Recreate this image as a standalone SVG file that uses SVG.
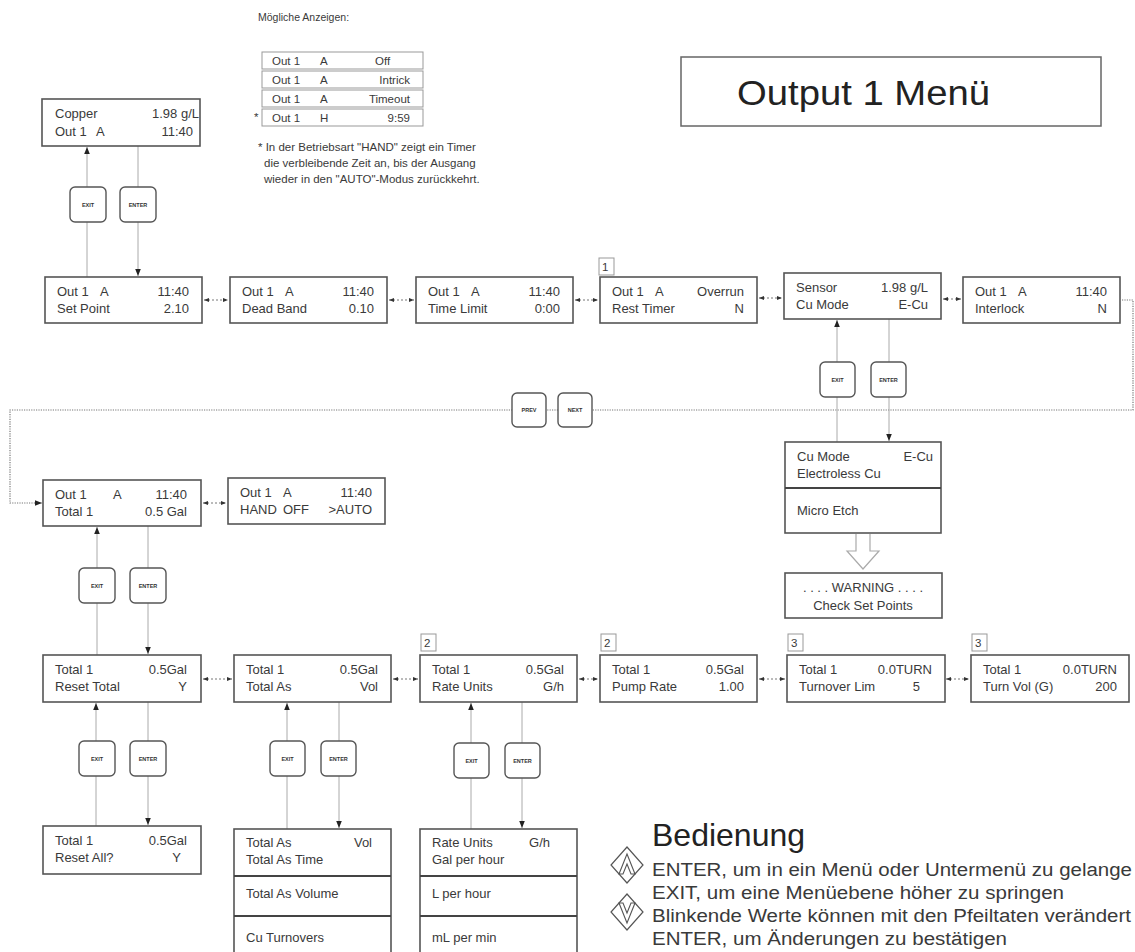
<svg xmlns="http://www.w3.org/2000/svg" width="1135" height="952" viewBox="0 0 1135 952">
<style>
.bg{fill:#fff}
.box{fill:#fff;stroke:#555;stroke-width:1.6}
.lbox{fill:#fff;stroke:#999;stroke-width:1}
.div{stroke:#444;stroke-width:1.8}
.t{font-family:"Liberation Sans",Arial,sans-serif;font-size:13px;fill:#3a3a3a}
.e{text-anchor:end}
.m{text-anchor:middle}
.sm{font-size:11.5px}
.xs{font-size:10.5px}
.lg{font-size:18px}
.btn{fill:#fff;stroke:#555;stroke-width:1.4}
.bt{font-family:"Liberation Sans",Arial,sans-serif;font-size:5.5px;font-weight:bold;fill:#333;text-anchor:middle}
.ln{stroke:#aaa;stroke-width:1;fill:none}
.dash{stroke:#777;stroke-width:1;stroke-dasharray:2 2;fill:none}
.dot{stroke:#777;stroke-width:1.2;stroke-dasharray:1.2 1.2;fill:none}
.lab{fill:#fff;stroke:#999;stroke-width:1}
.hollow{fill:#fff;stroke:#aaa;stroke-width:1.2}
</style>
<defs>
<marker id="ah" viewBox="0 0 10 10" refX="10" refY="5" markerWidth="7" markerHeight="7" orient="auto-start-reverse" markerUnits="userSpaceOnUse"><path d="M0,1 L10,5 L0,9 Z" fill="#222"/></marker>
<marker id="sa" viewBox="0 0 10 10" refX="10" refY="5" markerWidth="5" markerHeight="5" orient="auto-start-reverse" markerUnits="userSpaceOnUse"><path d="M0,1 L10,5 L0,9 Z" fill="#333"/></marker>
</defs>
<rect class="bg" x="0" y="0" width="1135" height="952"/>

<g id="connectors">
  <line class="ln" x1="87" y1="277" x2="87" y2="147" marker-end="url(#ah)"/>
  <line class="ln" x1="138" y1="146" x2="138" y2="276" marker-end="url(#ah)"/>
  <line class="dash" x1="204" y1="300" x2="228" y2="300" marker-start="url(#sa)" marker-end="url(#sa)"/>
  <line class="dash" x1="389" y1="300" x2="414" y2="300" marker-start="url(#sa)" marker-end="url(#sa)"/>
  <line class="dash" x1="575" y1="300" x2="598" y2="300" marker-start="url(#sa)" marker-end="url(#sa)"/>
  <line class="dash" x1="759" y1="298" x2="782" y2="298" marker-start="url(#sa)" marker-end="url(#sa)"/>
  <line class="dash" x1="943" y1="299" x2="961" y2="299" marker-start="url(#sa)" marker-end="url(#sa)"/>
  <polyline class="dot" points="1122,300 1133,300 1133,410 10,410 10,503 36,503"/>
  <line class="ln" x1="36" y1="503" x2="42" y2="503" marker-end="url(#ah)"/>
  <line class="ln" x1="837" y1="442" x2="837" y2="320" marker-end="url(#ah)"/>
  <line class="ln" x1="889" y1="319" x2="889" y2="441" marker-end="url(#ah)"/>
  <line class="dash" x1="203" y1="503" x2="226" y2="503" marker-start="url(#sa)" marker-end="url(#sa)"/>
  <line class="ln" x1="97" y1="655" x2="97" y2="527" marker-end="url(#ah)"/>
  <line class="ln" x1="148" y1="526" x2="148" y2="654" marker-end="url(#ah)"/>
  <line class="dash" x1="203" y1="679" x2="232" y2="679" marker-start="url(#sa)" marker-end="url(#sa)"/>
  <line class="dash" x1="393" y1="679" x2="418" y2="679" marker-start="url(#sa)" marker-end="url(#sa)"/>
  <line class="dash" x1="579" y1="679" x2="598" y2="679" marker-start="url(#sa)" marker-end="url(#sa)"/>
  <line class="dash" x1="759" y1="679" x2="785" y2="679" marker-start="url(#sa)" marker-end="url(#sa)"/>
  <line class="dash" x1="946" y1="679" x2="969" y2="679" marker-start="url(#sa)" marker-end="url(#sa)"/>
  <line class="ln" x1="96" y1="826" x2="96" y2="703" marker-end="url(#ah)"/>
  <line class="ln" x1="148" y1="702" x2="148" y2="825" marker-end="url(#ah)"/>
  <line class="ln" x1="287" y1="829" x2="287" y2="703" marker-end="url(#ah)"/>
  <line class="ln" x1="339" y1="702" x2="339" y2="828" marker-end="url(#ah)"/>
  <line class="ln" x1="471" y1="829" x2="471" y2="703" marker-end="url(#ah)"/>
  <line class="ln" x1="522" y1="702" x2="522" y2="828" marker-end="url(#ah)"/>
  <path class="hollow" d="M856,534 L856,551 L847,551 L863,569 L879,551 L870,551 L870,534"/>
</g>

<g id="buttons">
  <rect class="btn" x="70" y="187" width="36" height="35" rx="5"/><text class="bt" x="88" y="206.5">EXIT</text>
  <rect class="btn" x="120" y="187" width="36" height="35" rx="5"/><text class="bt" x="138" y="206.5">ENTER</text>
  <rect class="btn" x="820" y="362" width="35" height="35" rx="5"/><text class="bt" x="837.5" y="381.5">EXIT</text>
  <rect class="btn" x="871" y="362" width="35" height="35" rx="5"/><text class="bt" x="888.5" y="381.5">ENTER</text>
  <rect class="btn" x="512" y="393" width="34" height="34" rx="5"/><text class="bt" x="529" y="412">PREV</text>
  <rect class="btn" x="558" y="393" width="34" height="34" rx="5"/><text class="bt" x="575" y="412">NEXT</text>
  <rect class="btn" x="79" y="568" width="36" height="35" rx="5"/><text class="bt" x="97" y="587.5">EXIT</text>
  <rect class="btn" x="130" y="568" width="36" height="35" rx="5"/><text class="bt" x="148" y="587.5">ENTER</text>
  <rect class="btn" x="79" y="741" width="36" height="35" rx="5"/><text class="bt" x="97" y="760.5">EXIT</text>
  <rect class="btn" x="130" y="741" width="36" height="35" rx="5"/><text class="bt" x="148" y="760.5">ENTER</text>
  <rect class="btn" x="270" y="741" width="35" height="35" rx="5"/><text class="bt" x="287.5" y="760.5">EXIT</text>
  <rect class="btn" x="321" y="741" width="35" height="35" rx="5"/><text class="bt" x="338.5" y="760.5">ENTER</text>
  <rect class="btn" x="454" y="743" width="35" height="35" rx="5"/><text class="bt" x="471.5" y="762.5">EXIT</text>
  <rect class="btn" x="505" y="743" width="35" height="35" rx="5"/><text class="bt" x="522.5" y="762.5">ENTER</text>
</g>

<g id="possible-displays">
  <text class="t xs" x="258" y="21">Mögliche Anzeigen:</text>
  <rect class="lbox" x="262" y="52" width="161" height="17"/>
  <text class="t sm" x="272" y="65">Out 1</text><text class="t sm" x="320" y="65">A</text><text class="t sm" x="375" y="65">Off</text>
  <rect class="lbox" x="262" y="71" width="161" height="17"/>
  <text class="t sm" x="272" y="84">Out 1</text><text class="t sm" x="320" y="84">A</text><text class="t sm e" x="410" y="84">Intrick</text>
  <rect class="lbox" x="262" y="90" width="161" height="17"/>
  <text class="t sm" x="272" y="103">Out 1</text><text class="t sm" x="320" y="103">A</text><text class="t sm e" x="410" y="103">Timeout</text>
  <rect class="lbox" x="262" y="109" width="161" height="17"/>
  <text class="t sm" x="254" y="121">*</text>
  <text class="t sm" x="272" y="122">Out 1</text><text class="t sm" x="320" y="122">H</text><text class="t sm e" x="410" y="122">9:59</text>
  <text class="t sm" x="258" y="151">* In der Betriebsart "HAND" zeigt ein Timer</text>
  <text class="t sm" x="264" y="167">die verbleibende Zeit an, bis der Ausgang</text>
  <text class="t sm" x="264" y="183">wieder in den "AUTO"-Modus zurückkehrt.</text>
</g>

<g id="title">
  <rect x="681" y="57" width="420" height="69" fill="#fff" stroke="#666" stroke-width="1.5"/>
  <text x="737" y="105" font-family="Liberation Sans, Arial, sans-serif" font-size="35" fill="#222" textLength="253" lengthAdjust="spacingAndGlyphs">Output 1 Menü</text>
</g>

<g id="n-copper">
  <rect class="box" x="42" y="99" width="158" height="47"/>
  <text class="t" x="55" y="118">Copper</text><text class="t e" x="199" y="118">1.98 g/L</text>
  <text class="t" x="55" y="136">Out 1</text><text class="t" x="96" y="136">A</text><text class="t e" x="193" y="136">11:40</text>
</g>

<g id="n-setpoint">
  <rect class="box" x="45" y="277" width="157" height="46"/>
  <text class="t" x="57" y="296">Out 1</text><text class="t" x="100" y="296">A</text><text class="t e" x="189" y="296">11:40</text>
  <text class="t" x="57" y="313">Set Point</text><text class="t e" x="189" y="313">2.10</text>
</g>
<g id="n-deadband">
  <rect class="box" x="230" y="277" width="157" height="46"/>
  <text class="t" x="242" y="296">Out 1</text><text class="t" x="285" y="296">A</text><text class="t e" x="374" y="296">11:40</text>
  <text class="t" x="242" y="313">Dead Band</text><text class="t e" x="374" y="313">0.10</text>
</g>
<g id="n-timelimit">
  <rect class="box" x="416" y="277" width="157" height="46"/>
  <text class="t" x="428" y="296">Out 1</text><text class="t" x="471" y="296">A</text><text class="t e" x="560" y="296">11:40</text>
  <text class="t" x="428" y="313">Time Limit</text><text class="t e" x="560" y="313">0:00</text>
</g>
<g id="n-resttimer">
  <rect class="lab" x="599" y="258" width="15" height="17"/><text class="t sm" x="602" y="271">1</text>
  <rect class="box" x="600" y="277" width="157" height="46"/>
  <text class="t" x="612" y="296">Out 1</text><text class="t" x="655" y="296">A</text><text class="t e" x="744" y="296">Overrun</text>
  <text class="t" x="612" y="313">Rest Timer</text><text class="t e" x="744" y="313">N</text>
</g>
<g id="n-sensor">
  <rect class="box" x="784" y="273" width="157" height="46"/>
  <text class="t" x="796" y="292">Sensor</text><text class="t e" x="928" y="292">1.98 g/L</text>
  <text class="t" x="796" y="309">Cu Mode</text><text class="t e" x="928" y="309">E-Cu</text>
</g>
<g id="n-interlock">
  <rect class="box" x="963" y="277" width="157" height="46"/>
  <text class="t" x="975" y="296">Out 1</text><text class="t" x="1018" y="296">A</text><text class="t e" x="1107" y="296">11:40</text>
  <text class="t" x="975" y="313">Interlock</text><text class="t e" x="1107" y="313">N</text>
</g>

<g id="n-cumode-list">
  <rect class="box" x="785" y="442" width="156" height="91"/>
  <line class="div" x1="785" y1="488" x2="941" y2="488"/>
  <text class="t" x="797" y="461">Cu Mode</text><text class="t e" x="933" y="461">E-Cu</text>
  <text class="t" x="797" y="478">Electroless Cu</text>
  <text class="t" x="797" y="515">Micro Etch</text>
</g>
<g id="n-warning">
  <rect class="box" x="785" y="573" width="157" height="45"/>
  <text class="t m" x="863" y="592">. . . . WARNING . . . .</text>
  <text class="t m" x="863" y="610">Check Set Points</text>
</g>

<g id="n-total">
  <rect class="box" x="43" y="480" width="158" height="46"/>
  <text class="t" x="55" y="499">Out 1</text><text class="t" x="113" y="499">A</text><text class="t e" x="187" y="499">11:40</text>
  <text class="t" x="55" y="516">Total 1</text><text class="t e" x="187" y="516">0.5 Gal</text>
</g>
<g id="n-hand">
  <rect class="box" x="228" y="478" width="157" height="46"/>
  <text class="t" x="240" y="497">Out 1</text><text class="t" x="283" y="497">A</text><text class="t e" x="372" y="497">11:40</text>
  <text class="t" x="240" y="514">HAND</text><text class="t" x="283" y="514">OFF</text><text class="t e" x="372" y="514">&gt;AUTO</text>
</g>

<g id="n-resettotal">
  <rect class="box" x="43" y="655" width="158" height="47"/>
  <text class="t" x="55" y="674">Total 1</text><text class="t e" x="187" y="674">0.5Gal</text>
  <text class="t" x="55" y="691">Reset Total</text><text class="t e" x="187" y="691">Y</text>
</g>
<g id="n-totalas">
  <rect class="box" x="234" y="655" width="157" height="47"/>
  <text class="t" x="246" y="674">Total 1</text><text class="t e" x="378" y="674">0.5Gal</text>
  <text class="t" x="246" y="691">Total As</text><text class="t e" x="378" y="691">Vol</text>
</g>
<g id="n-rateunits">
  <rect class="lab" x="421" y="634" width="15" height="17"/><text class="t sm" x="424" y="647">2</text>
  <rect class="box" x="420" y="655" width="157" height="47"/>
  <text class="t" x="432" y="674">Total 1</text><text class="t e" x="564" y="674">0.5Gal</text>
  <text class="t" x="432" y="691">Rate Units</text><text class="t e" x="564" y="691">G/h</text>
</g>
<g id="n-pumprate">
  <rect class="lab" x="601" y="634" width="15" height="17"/><text class="t sm" x="604" y="647">2</text>
  <rect class="box" x="600" y="655" width="157" height="47"/>
  <text class="t" x="612" y="674">Total 1</text><text class="t e" x="744" y="674">0.5Gal</text>
  <text class="t" x="612" y="691">Pump Rate</text><text class="t e" x="744" y="691">1.00</text>
</g>
<g id="n-turnover">
  <rect class="lab" x="788" y="634" width="15" height="17"/><text class="t sm" x="791" y="647">3</text>
  <rect class="box" x="787" y="655" width="158" height="47"/>
  <text class="t" x="799" y="674">Total 1</text><text class="t e" x="932" y="674">0.0TURN</text>
  <text class="t" x="799" y="691">Turnover Lim</text><text class="t e" x="920" y="691">5</text>
</g>
<g id="n-turnvol">
  <rect class="lab" x="972" y="634" width="15" height="17"/><text class="t sm" x="975" y="647">3</text>
  <rect class="box" x="971" y="655" width="158" height="47"/>
  <text class="t" x="983" y="674">Total 1</text><text class="t e" x="1117" y="674">0.0TURN</text>
  <text class="t" x="983" y="691">Turn Vol (G)</text><text class="t e" x="1117" y="691">200</text>
</g>

<g id="n-resetall">
  <rect class="box" x="43" y="826" width="158" height="48"/>
  <text class="t" x="55" y="845">Total 1</text><text class="t e" x="187" y="845">0.5Gal</text>
  <text class="t" x="55" y="862">Reset All?</text><text class="t e" x="181" y="862">Y</text>
</g>
<g id="n-totalas-list">
  <rect class="box" x="234" y="829" width="157" height="140"/>
  <line class="div" x1="234" y1="876" x2="391" y2="876"/>
  <line class="div" x1="234" y1="916" x2="391" y2="916"/>
  <text class="t" x="246" y="847">Total As</text><text class="t e" x="372" y="847">Vol</text>
  <text class="t" x="246" y="864">Total As Time</text>
  <text class="t" x="246" y="898">Total As Volume</text>
  <text class="t" x="246" y="942">Cu Turnovers</text>
</g>
<g id="n-rate-list">
  <rect class="box" x="420" y="829" width="157" height="140"/>
  <line class="div" x1="420" y1="876" x2="577" y2="876"/>
  <line class="div" x1="420" y1="916" x2="577" y2="916"/>
  <text class="t" x="432" y="847">Rate Units</text><text class="t e" x="550" y="847">G/h</text>
  <text class="t" x="432" y="864">Gal per hour</text>
  <text class="t" x="432" y="898">L per hour</text>
  <text class="t" x="432" y="942">mL per min</text>
</g>

<g id="legend">
  <path d="M627,847 L643,865 L627,883 L611,865 Z" fill="#fff" stroke="#555" stroke-width="1.2"/>
  <path d="M627,854 L635,874 L631,874 L627,864 L623,874 L619,874 Z" fill="none" stroke="#555" stroke-width="1.1"/>
  <path d="M627,894 L643,912 L627,930 L611,912 Z" fill="#fff" stroke="#555" stroke-width="1.2"/>
  <path d="M627,923 L635,903 L631,903 L627,913 L623,903 L619,903 Z" fill="none" stroke="#555" stroke-width="1.1"/>
  <text x="652" y="846" font-family="Liberation Sans, Arial, sans-serif" font-size="32" fill="#222">Bedienung</text>
  <text class="t lg" x="652" y="876" textLength="480" lengthAdjust="spacingAndGlyphs">ENTER, um in ein Menü oder Untermenü zu gelange</text>
  <text class="t lg" x="652" y="899" textLength="412" lengthAdjust="spacingAndGlyphs">EXIT, um eine Menüebene höher zu springen</text>
  <text class="t lg" x="652" y="922" textLength="479" lengthAdjust="spacingAndGlyphs">Blinkende Werte können mit den Pfeiltaten verändert</text>
  <text class="t lg" x="652" y="945" textLength="355" lengthAdjust="spacingAndGlyphs">ENTER, um Änderungen zu bestätigen</text>
</g>
</svg>
